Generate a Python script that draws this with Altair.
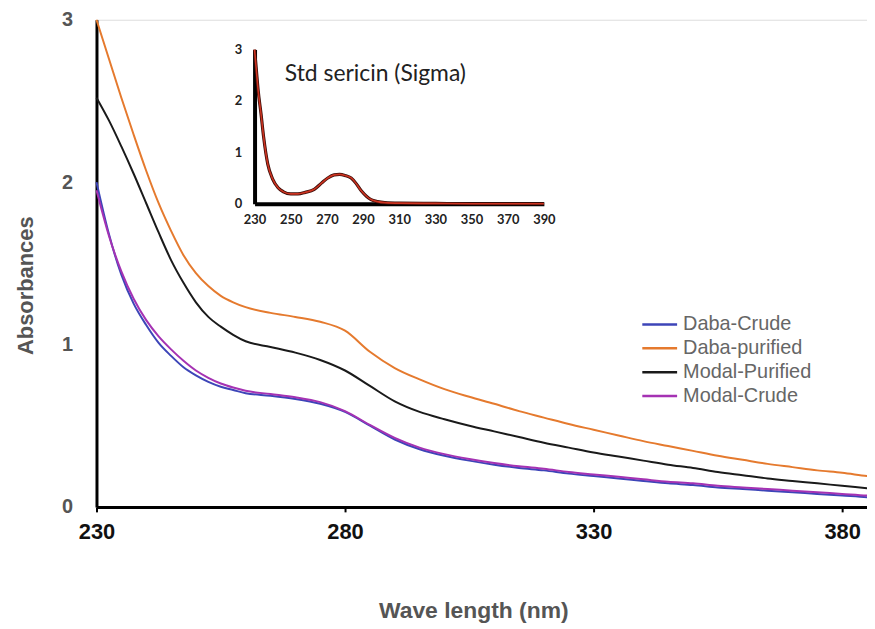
import altair as alt
import pandas as pd

# ---- main chart data ----
wavelength = [230, 232.5, 235, 237.5, 240, 242.5, 245, 247.5, 250, 252.5, 255, 257.5,
              260, 265, 270, 275, 280, 285, 290, 295, 300, 305, 310, 315, 320, 325, 330,
              335, 340, 345, 350, 355, 360, 365, 370, 375, 380, 385, 390]
daba_purified = [3.00, 2.76, 2.52, 2.29, 2.07, 1.87, 1.70, 1.55, 1.44, 1.36, 1.30, 1.26,
                 1.23, 1.195, 1.17, 1.14, 1.085, 0.955, 0.855, 0.785, 0.725, 0.678, 0.635, 0.59, 0.55, 0.51, 0.475,
                 0.44, 0.405, 0.375, 0.345, 0.315, 0.29, 0.265, 0.245, 0.225, 0.21, 0.19, 0.175]
modal_purified = [2.52, 2.38, 2.22, 2.05, 1.87, 1.69, 1.52, 1.38, 1.26, 1.17, 1.11, 1.06,
                  1.02, 0.985, 0.95, 0.905, 0.84, 0.745, 0.65, 0.585, 0.54, 0.50, 0.465, 0.43, 0.395, 0.365, 0.335,
                  0.31, 0.285, 0.26, 0.24, 0.215, 0.195, 0.175, 0.16, 0.145, 0.13, 0.115, 0.10]
daba_crude = [2.00, 1.68, 1.43, 1.25, 1.12, 1.01, 0.93, 0.86, 0.81, 0.77, 0.74, 0.72,
              0.70, 0.685, 0.665, 0.635, 0.585, 0.50, 0.415, 0.355, 0.315, 0.285, 0.26, 0.24, 0.225, 0.205, 0.19,
              0.175, 0.16, 0.145, 0.135, 0.12, 0.11, 0.10, 0.09, 0.08, 0.07, 0.06, 0.055]
modal_crude = [1.95, 1.67, 1.45, 1.28, 1.15, 1.05, 0.97, 0.90, 0.84, 0.795, 0.76, 0.735,
               0.715, 0.695, 0.675, 0.645, 0.59, 0.505, 0.425, 0.365, 0.325, 0.295, 0.27, 0.25, 0.235, 0.215, 0.20,
               0.185, 0.17, 0.155, 0.145, 0.13, 0.12, 0.11, 0.10, 0.09, 0.08, 0.07, 0.065]

series_names = ["Daba-Crude", "Daba-purified", "Modal-Purified", "Modal-Crude"]
series_colors = ["#3d45b8", "#e57a2e", "#1a1a1a", "#a532b3"]

# ---- inset data (Std sericin, Sigma) ----
inset_wl = [230, 231, 232, 233.6, 235, 237.3, 240, 243, 246, 250, 254, 258, 263, 267, 270.5, 274,
            277, 280, 283.4, 286, 289, 292, 294.4, 298, 302, 310, 330, 350, 370, 390]
inset_abs = [3.0, 2.6, 2.2, 1.74, 1.3, 0.77, 0.48, 0.31, 0.23, 0.19, 0.19, 0.22, 0.28, 0.40, 0.50, 0.56,
             0.57, 0.55, 0.50, 0.40, 0.25, 0.14, 0.08, 0.04, 0.02, 0.01, 0.005, 0.0, 0.0, 0.0]

x_ticks = [230, 280, 330, 380]
y_ticks = [0, 1, 2, 3]
inset_x_ticks = [230, 250, 270, 290, 310, 330, 350, 370, 390]
inset_y_ticks = [0, 1, 2, 3]

rows = []
for name, vals in [("Daba-purified", daba_purified), ("Modal-Purified", modal_purified),
                   ("Daba-Crude", daba_crude), ("Modal-Crude", modal_crude)]:
    for w, v in zip(wavelength, vals):
        rows.append({"wl": w, "abs": v, "series": name})
df = pd.DataFrame(rows)
inset_df = pd.DataFrame({"wl": inset_wl, "abs": inset_abs})

W, H = 775, 490
FONT = "Liberation Sans"

main = alt.Chart(df).mark_line(strokeWidth=2, interpolate="monotone").encode(
    x=alt.X("wl:Q",
            scale=alt.Scale(domain=[230, 385], nice=False, zero=False),
            axis=alt.Axis(values=x_ticks, orient="bottom", grid=False, domainColor="black", domainWidth=3,
                          tickColor="black", tickWidth=2, tickSize=5, labelFont=FONT, labelFontSize=22,
                          labelFontWeight="bold", labelColor="#111", labelPadding=10, labelFlush=False,
                          title="Wave length (nm)", titleFont=FONT, titleFontSize=23, titleFontWeight="bold",
                          titleColor="#555", titleX=379, titleY=104, titleBaseline="middle", titleAlign="center")),
    y=alt.Y("abs:Q",
            scale=alt.Scale(domain=[0, 3], nice=False),
            axis=alt.Axis(values=y_ticks, orient="left", grid=False, domainColor="black", domainWidth=3,
                          ticks=False, labelFont=FONT, labelFontSize=20, labelFontWeight="bold",
                          labelColor="#555", labelPadding=24, labelFlush=False,
                          title="Absorbances", titleFont=FONT, titleFontSize=22, titleFontWeight="bold",
                          titleColor="#555", titleX=-71, titleY=267, titleAngle=-90,
                          titleBaseline="middle", titleAlign="center")),
    color=alt.Color("series:N",
                    scale=alt.Scale(domain=series_names, range=series_colors),
                    legend=alt.Legend(title=None, orient="none", legendX=555, legendY=295,
                                      symbolType="M-1.75,0H1.75", symbolSize=400, symbolStrokeWidth=2.5,
                                      labelFont=FONT, labelFontSize=20, labelColor="#666",
                                      labelOffset=12, rowPadding=2)),
)

inset_x = alt.X("wl:Q",
                scale=alt.Scale(domain=[230, 390], range=[159, 450], nice=False, zero=False),
                axis=alt.Axis(values=inset_x_ticks, orient="bottom", offset=-305, grid=False,
                              domainColor="black", domainWidth=4, ticks=False, labelFlush=False,
                              labelFont="Lato", labelFontSize=13, labelFontWeight="bold", labelColor="#222",
                              labelPadding=10, format="d",
                              title="Std sericin (Sigma)", titleFont="Lato", titleFontSize=23,
                              titleFontWeight="normal", titleColor="#222", titleX=280, titleY=-131,
                              titleBaseline="middle", titleAlign="center"))
inset_y = alt.Y("abs:Q",
                scale=alt.Scale(domain=[0, 3], range=[185, 30], nice=False),
                axis=alt.Axis(values=inset_y_ticks, orient="left", offset=-159, grid=False,
                              domainColor="black", domainWidth=4, ticks=False, labelFlush=False,
                              labelFont="Lato", labelFontSize=13, labelFontWeight="bold", labelColor="#222",
                              labelPadding=13, format="d", title=None))

inset_dark = alt.Chart(inset_df).mark_line(strokeWidth=3.2, color="#3a0c08", interpolate="monotone").encode(
    x=inset_x, y=inset_y)
inset_red = alt.Chart(inset_df).mark_line(strokeWidth=1.6, color="#cc3320", interpolate="monotone").encode(
    x=inset_x, y=inset_y)
inset = alt.layer(inset_dark, inset_red)

chart = alt.layer(main, inset).resolve_scale(x="independent", y="independent").properties(
    width=W, height=H,
    autosize=alt.AutoSizeParams(type="none"),
    padding={"left": 89, "top": 10, "right": 0, "bottom": 122},
).configure_view(strokeWidth=0, stroke=None).configure_axis(grid=False).configure(background="white")

chart.save("out.html", embed_options={"renderer": "svg", "actions": False})
